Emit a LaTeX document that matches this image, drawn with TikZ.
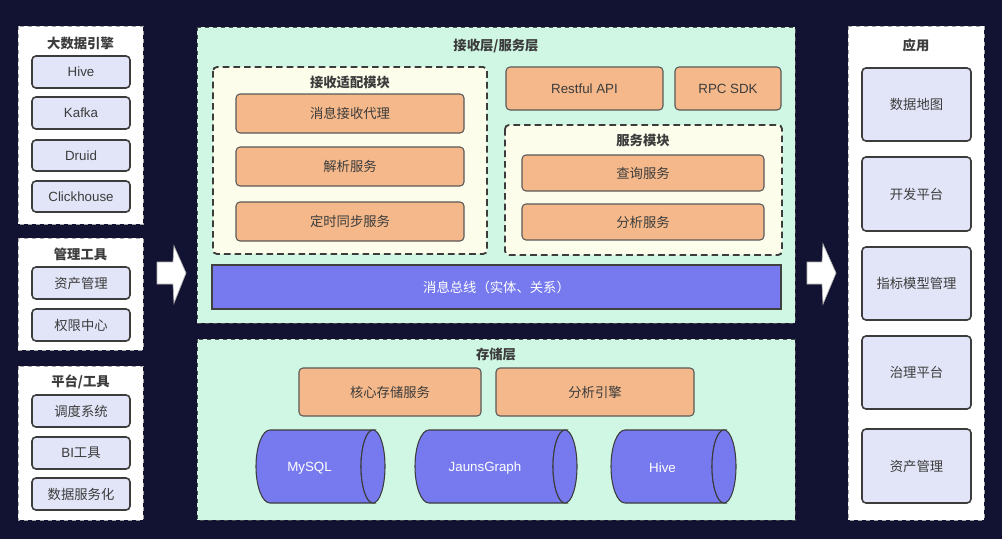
\documentclass[tikz,border=0pt]{standalone}
\usepackage{fontspec}
\setmainfont{Liberation Sans}
\newfontfamily\cj{Noto Sans CJK SC}
\definecolor{bgc}{RGB}{18,19,50}
\definecolor{lav}{RGB}{226,229,248}
\definecolor{mint}{RGB}{207,247,227}
\definecolor{cream}{RGB}{253,253,236}
\definecolor{orng}{RGB}{244,184,138}
\definecolor{bluev}{RGB}{118,122,238}
\definecolor{txt}{RGB}{60,60,60}
\definecolor{dk}{RGB}{60,60,60}
\tikzset{
  panel/.style={draw=gray!70, dashed, line width=0.6pt, fill=white},
  mintpanel/.style={draw=gray!60!black, dashed, line width=0.6pt, fill=mint},
  group/.style={draw=dk, dash pattern=on 5pt off 3pt, line width=1.4pt, fill=cream, rounded corners=3pt},
  lavbox/.style={draw=dk, line width=1.2pt, fill=lav, rounded corners=3pt},
  orbox/.style={draw=gray!70!black, line width=0.8pt, fill=orng, rounded corners=3pt},
  ttl/.style={font=\cj\fontsize{10}{12}\selectfont\bfseries, text=txt},
  lbl/.style={font=\cj\fontsize{10}{12}\selectfont, text=txt},
  lat/.style={font=\fontsize{10}{12}\selectfont, text=txt},
  cyl/.style={draw=dk, line width=0.8pt, fill=bluev},
  arr/.style={fill=white, draw=gray!60, line width=0.5pt}
}
\begin{document}
\begin{tikzpicture}[x=0.75pt,y=-0.75pt]
\useasboundingbox (0,0) rectangle (1002,539);
\fill[bgc] (0,0) rectangle (1002,539);

% ---------- left column ----------
\draw[panel] (18,26) rectangle (143,224);
\node[ttl] (t1) at (80.5,43) {大数据引擎};
\draw[lavbox] (32,56) rectangle node[lat] (hive1) {Hive} (130,88);
\draw[lavbox] (32,97) rectangle node[lat] (kafka) {Kafka} (130,129);
\draw[lavbox] (32,140) rectangle node[lat] (druid) {Druid} (130,171);
\draw[lavbox] (32,181) rectangle node[lat] (ck) {Clickhouse} (130,212);

\draw[panel] (18,238) rectangle (143,350);
\node[ttl] (t2) at (80.5,254) {管理工具};
\draw[lavbox] (32,267) rectangle node[lbl] (zcgl1) {资产管理} (130,299);
\draw[lavbox] (32,309) rectangle node[lbl] (qxzx) {权限中心} (130,341);

\draw[panel] (18,366) rectangle (143,520);
\node[ttl] (t3) at (80.5,382) {平台/工具};
\draw[lavbox] (32,395) rectangle node[lbl] (ddxt) {调度系统} (130,427);
\draw[lavbox] (32,437) rectangle node[lat] (bi) {BI{\cj 工具}} (130,469);
\draw[lavbox] (32,478) rectangle node[lbl] (sjfwh) {数据服务化} (130,510);

% ---------- arrows ----------
\draw[arr] (157,262) -- (173,262) -- (174,246) -- (186,273) -- (174,303) -- (173,284) -- (157,284) -- cycle;
\draw[arr] (807,262) -- (822,262) -- (823,244) -- (836,273) -- (823,304) -- (822,284) -- (807,284) -- cycle;

% ---------- receive / service layer ----------
\draw[mintpanel] (197,27) rectangle (795,323);
\node[ttl] (t4) at (496,46) {接收层/服务层};

\draw[group] (213,67) rectangle (487,254);
\node[ttl] (t5) at (350,82) {接收适配模块};
\draw[orbox] (236,94) rectangle node[lbl] (xxjs) {消息接收代理} (464,133);
\draw[orbox] (236,147) rectangle node[lbl] (jxfw) {解析服务} (464,186);
\draw[orbox] (236,202) rectangle node[lbl] (dstb) {定时同步服务} (464,241);

\draw[orbox] (506,67) rectangle node[lat] (rest) {Restful API} (663,110);
\draw[orbox] (675,67) rectangle node[lat] (rpc) {RPC SDK} (781,110);

\draw[group] (505,125) rectangle (782,255);
\node[ttl] (t6) at (643,140) {服务模块};
\draw[orbox] (522,155) rectangle node[lbl] (cxfw) {查询服务} (764,191);
\draw[orbox] (522,204) rectangle node[lbl] (fxfw) {分析服务} (764,240);

\draw[draw=gray!50!black, line width=0.8pt, fill=bluev] (212,265) rectangle node[font=\cj\fontsize{10}{12}\selectfont, text=white] (bus) {消息总线（实体、关系）} (781,309);

% ---------- storage layer ----------
\draw[mintpanel] (197,339) rectangle (795,520);
\node[ttl] (t7) at (496,354) {存储层};
\draw[orbox] (299,368) rectangle node[lbl] (hxcc) {核心存储服务} (481,416);
\draw[orbox] (496,368) rectangle node[lbl] (fxyq) {分析引擎} (694,416);

% cylinders
\foreach \xa/\xb/\nm/\lab in {256/385/mysql/MySQL, 415/577/jg/JaunsGraph, 611/736/hv/Hive}{
  \draw[cyl] (\xa+14,430) -- (\xb-12,430) arc[start angle=270, end angle=90, x radius=12, y radius=36.5]
     -- (\xa+14,503) arc[start angle=90, end angle=270, x radius=14, y radius=36.5] -- cycle;
  \draw[cyl] (\xb-12,466.5) ellipse [x radius=12, y radius=36.5];
  \node[font=\fontsize{10}{12}\selectfont, text=white] (\nm) at ({(\xa+\xb)/2-11},468) {\lab};
}

% ---------- right column ----------
\draw[panel] (848,26) rectangle (984,520);
\node[ttl] (t8) at (916,45) {应用};
\draw[lavbox] (862,68) rectangle node[lbl] (sjdt) {数据地图} (971,141);
\draw[lavbox] (862,157) rectangle node[lbl] (kfpt) {开发平台} (971,231);
\draw[lavbox] (862,247) rectangle node[lbl] (zbmx) {指标模型管理} (971,320);
\draw[lavbox] (862,336) rectangle node[lbl] (zlpt) {治理平台} (971,409);
\draw[lavbox] (862,429) rectangle node[lbl] (zcgl2) {资产管理} (971,503);
\end{tikzpicture}
\end{document}
